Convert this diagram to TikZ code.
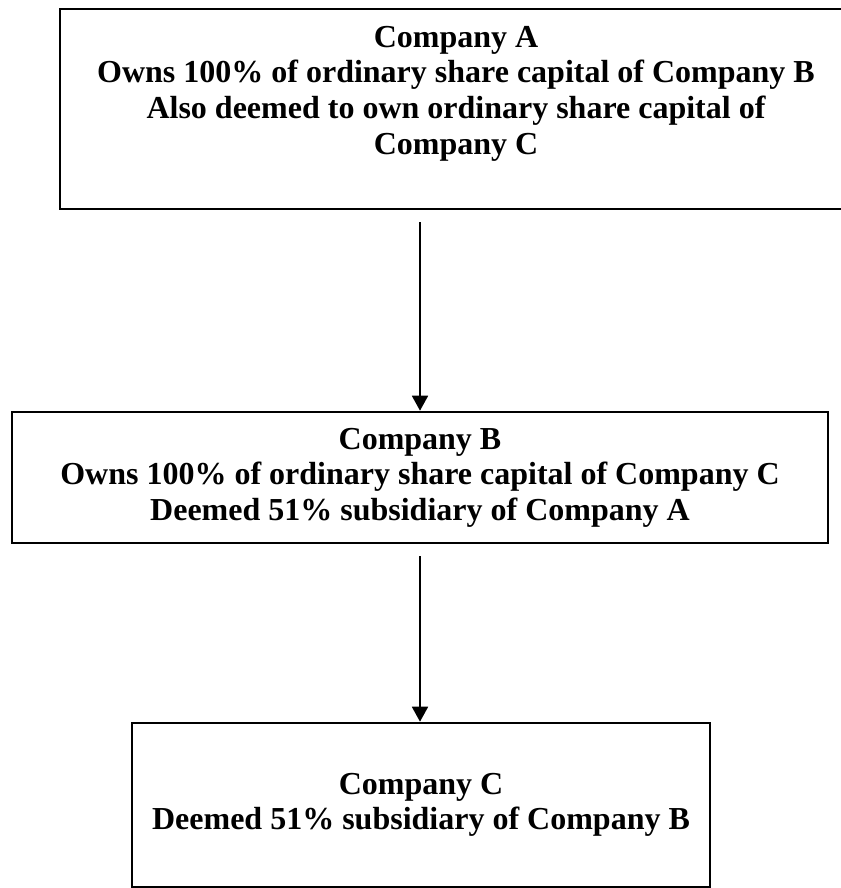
\documentclass[tikz,border=0pt]{standalone}
\usepackage{fontspec}
\setmainfont{Liberation Serif}
\usetikzlibrary{arrows.meta}
\usetikzlibrary{positioning}

\begin{document}
\begin{tikzpicture}[x=1pt,y=1pt,>={Triangle[length=7.5pt,width=8pt]},
  box/.style={draw, line width=1.3pt, inner sep=0pt},
  txt/.style={align=center, font=\fontsize{16}{17.8}\selectfont\bfseries},
  link/.style={->, line width=0.9pt, shorten <=6pt}]
	\useasboundingbox (0,0) rectangle (420,-444);

	\node[box, minimum width=396pt, minimum height=100pt] (boxA) at (228,-54.5) {};
	\node[txt] (textA) at ([yshift=7.75pt]boxA.center) {Company A\\Owns 100\% of ordinary share capital of Company B\\Also deemed to own ordinary share capital of\\Company C};
	\node[box, txt, minimum width=408pt, minimum height=65.5pt] (boxB) at (210,-238.75) {Company B\\Owns 100\% of ordinary share capital of Company C\\Deemed 51\% subsidiary of Company A};
	\node[box, txt, minimum width=289pt, minimum height=82pt] (boxC) at (210.5,-402.5) {Company C\\Deemed 51\% subsidiary of Company B};

	\draw[link] (boxB.north |- boxA.south) to (boxB.north);
	\draw[link] (boxB.south) to (boxB.south |- boxC.north);
\end{tikzpicture}
\end{document}
